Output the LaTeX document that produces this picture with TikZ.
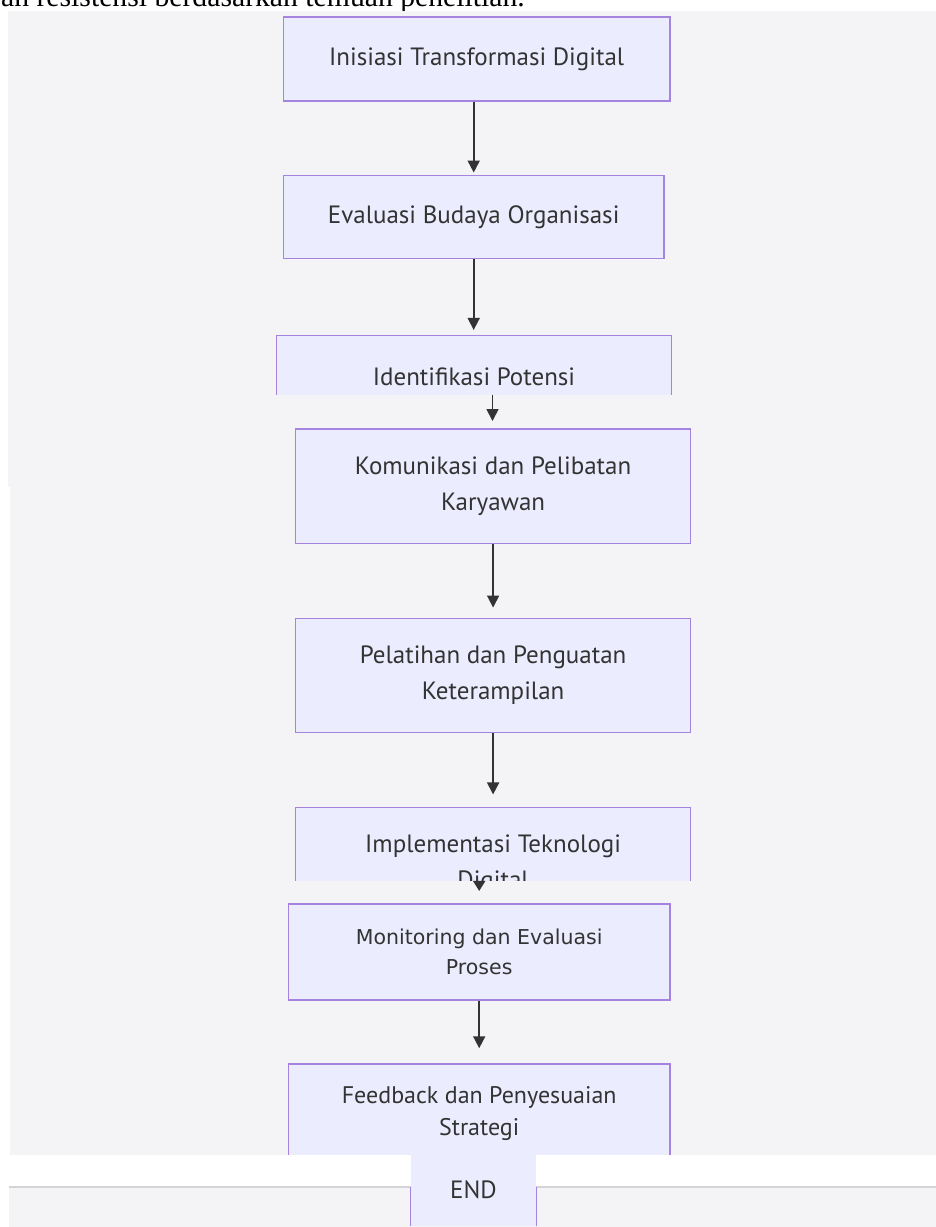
\documentclass[tikz,border=0pt]{standalone}
\usepackage{fontspec}
\setmainfont{PT Sans}
\newfontfamily\seriffam{Liberation Serif}
\newfontfamily\verdfam{DejaVu Sans}
\usetikzlibrary{arrows.meta}
\definecolor{panelbg}{RGB}{244,244,246}
\definecolor{boxfill}{RGB}{236,236,255}
\definecolor{boxline}{RGB}{165,132,224}
\definecolor{ink}{RGB}{51,51,51}
\definecolor{sepline}{RGB}{212,212,212}
\begin{document}
\begin{tikzpicture}[x=1pt,y=-1pt,
  box/.style={draw=boxline, fill=boxfill, line width=1.5pt, text=ink, align=center, inner sep=0pt},
  fontA/.style={font=\fontsize{25}{36}\selectfont},
  fontC/.style={font=\verdfam\fontsize{20.5}{30.6}\selectfont},
  fontD/.style={font=\fontsize{24}{32}\selectfont},
  arr/.style={draw=ink, line width=1.7pt, -{Triangle[length=12pt,width=12pt]}},
  panel/.style={fill=panelbg, draw=none}]
\clip (0,0) rectangle (936,1227);
\path[use as bounding box] (0,0) rectangle (936,1227);
\fill[white] (0,0) rectangle (936,1227);
% caption fragment
\node[anchor=base east, inner sep=0pt, font=\seriffam\fontsize{29.7}{34}\selectfont, text=black] (cap) at (525,6) {an resistensi berdasarkan temuan penelitian.};
% panel A
\fill[panel] (8,11) rectangle (936,487);
\node[box, fontA, minimum width=386.7pt, minimum height=83.7pt] (b1) at (476.7,58.9) {Inisiasi Transformasi Digital};
\node[box, fontA, minimum width=380.7pt, minimum height=83pt] (b2) at (473.7,217.2) {Evaluasi Budaya Organisasi};
\node[box, fontA, minimum width=395.2pt, minimum height=82pt] (b3) at (474,376.7) {Identifikasi Potensi};
\draw[arr, shorten >=2.4pt] (b2.north |- b1.south) -- (b2.north);
\draw[arr, shorten >=5pt] (b2.south) -- (b2.south |- b3.north);
% panel B
\fill[panel] (10,394.7) rectangle (936,880.7);
\coordinate (a3) at (492.5,394.7);
\node[box, fontA, minimum width=395.2pt, minimum height=114.3pt] (b4) at (493.1,486.2) {Komunikasi dan Pelibatan\\Karyawan};
\node[box, fontA, minimum width=395.2pt, minimum height=114pt] (b5) at (493.1,675.3) {Pelatihan dan Penguatan\\Keterampilan};
\node[box, fontA, minimum width=395.2pt, minimum height=114pt] (b6) at (493.1,864.7) {Implementasi Teknologi\\Digital};
\draw[arr, shorten >=7.3pt] (a3) -- (a3 |- b4.north);
\draw[arr, shorten >=10pt] (b4.south) -- (b5.north);
\draw[arr, shorten >=12.5pt] (b5.south) -- (b6.north);
% panel C
\fill[panel] (10,880.7) rectangle (936,1155);
\coordinate (a6) at (479.2,880.7);
\node[box, fontC, minimum width=381.7pt, minimum height=96pt] (b7) at (479.2,952) {Monitoring dan Evaluasi\\Proses};
\node[box, fontD, minimum width=381.6pt, minimum height=100pt] (b8) at (479.2,1114) {Feedback dan Penyesuaian\\Strategi};
\draw[draw=ink, line width=1.7pt, -{Triangle[length=10pt,width=12pt]}, shorten >=12.3pt] (a6) -- (b7.north);
\draw[arr, shorten >=15pt] (b7.south) -- (b8.north);
% white strip and bottom panel
\fill[white] (0,1155) rectangle (936,1187);
\fill[panel] (9,1187) rectangle (936,1227);
\coordinate (sepl) at (9,1187);
\coordinate (sepr) at (936,1187);
\draw[sepline, line width=1.2pt] (sepl) -- (sepr);
\node[fill=boxfill, draw=none, text=ink, inner sep=0pt, minimum width=125.3pt, minimum height=72pt, font=\fontsize{25}{28}\selectfont] (end) at (473.4,1190) {END};
\draw[boxline, line width=1.5pt] (end.south west) -- (end.south west |- sepl);
\draw[boxline, line width=1.5pt] (end.south east) -- (end.south east |- sepl);
\end{tikzpicture}
\end{document}
